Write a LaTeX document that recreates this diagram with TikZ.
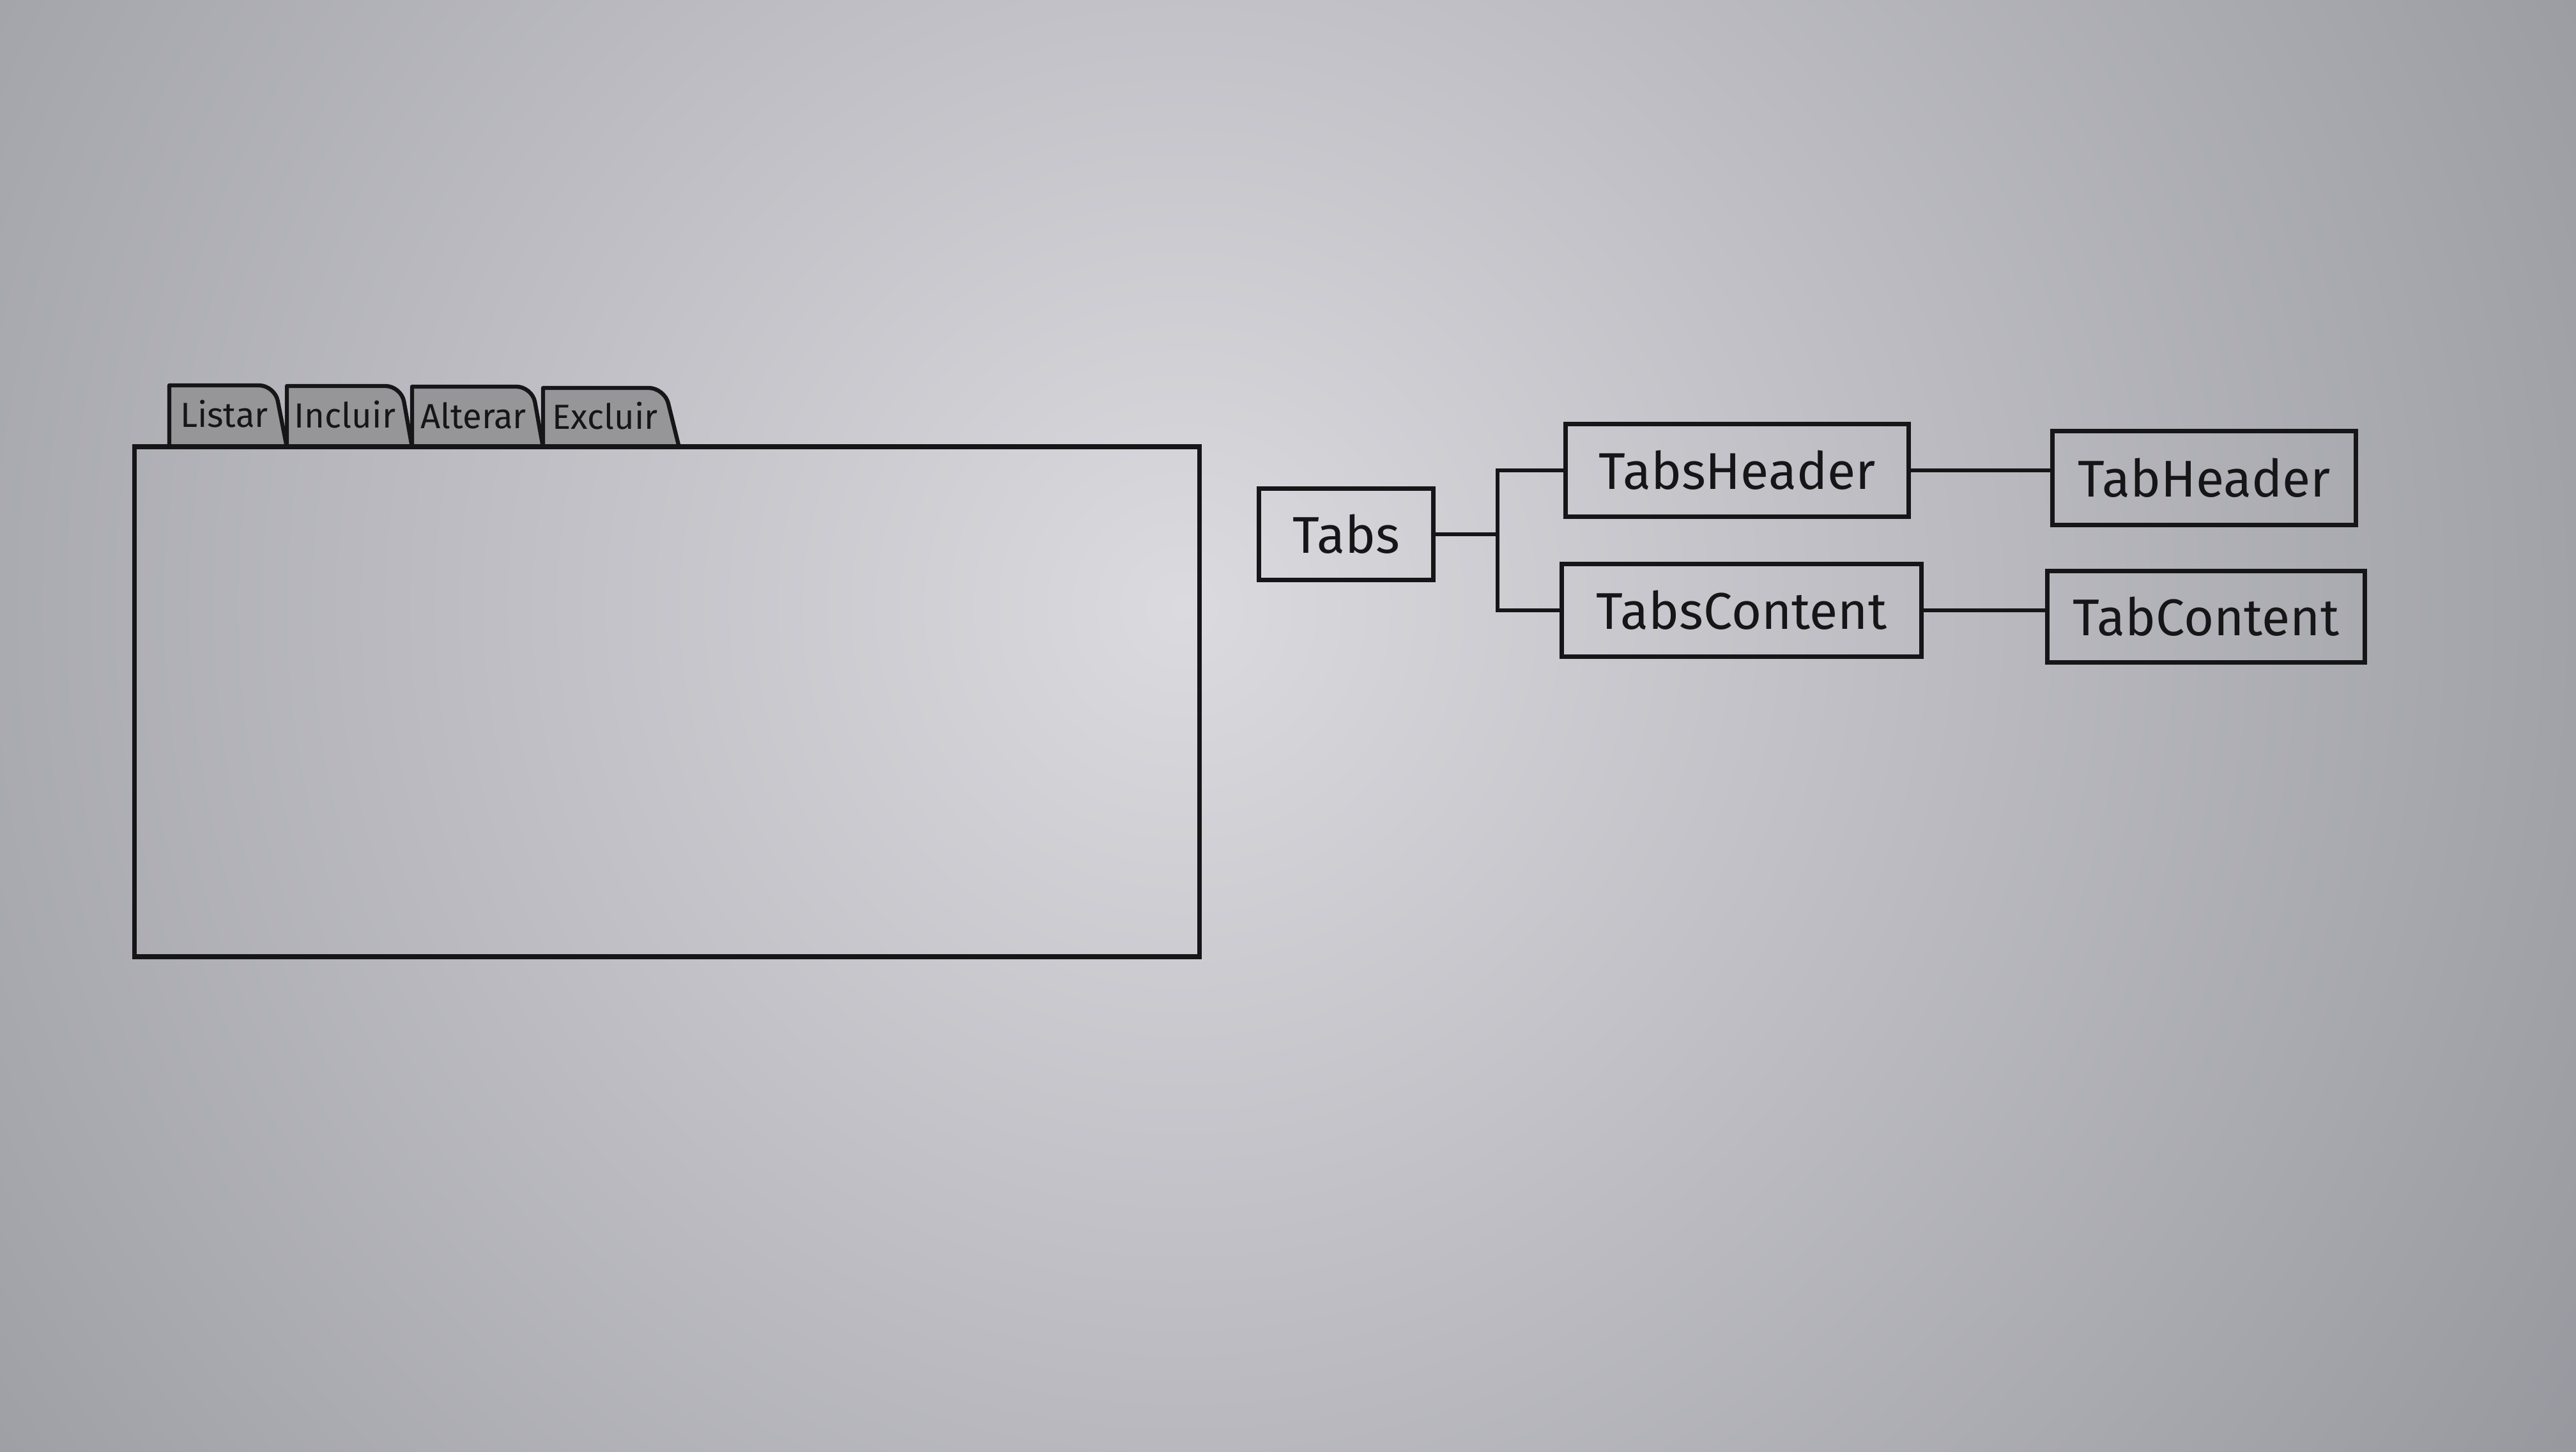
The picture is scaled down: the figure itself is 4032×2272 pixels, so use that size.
\documentclass[tikz,border=0pt]{standalone}
\usepackage{fontspec}
\setmainfont{Fira Sans}
\definecolor{bgin}{RGB}{218,218,223}
\definecolor{bgout}{RGB}{132,132,140}
\definecolor{tabgray}{RGB}{150,150,153}
\definecolor{ink}{RGB}{22,22,24}
\begin{document}
\begin{tikzpicture}[x=0.01cm,y=-0.01cm,
  box/.style={draw=ink, line width=2pt, inner sep=0pt, text=ink,
    font=\fontsize{23}{26}\selectfont},
  tabshape/.style={draw=ink, line width=1.8pt, fill=tabgray, line join=round},
  tablabel/.style={font=\fontsize{15.5}{18}\selectfont, text=ink, inner sep=0pt},
  panelbox/.style={draw=ink, line width=2.2pt, inner sep=0pt},
  link/.style={draw=ink, line width=1.5pt}]
% background
\begin{scope}
\clip (0,0) rectangle (4032,2272);
\fill[bgout] (0,0) rectangle (4032,2272);
\shade[inner color=bgin, outer color=bgout] (1850,950) circle (3300);
\end{scope}
\useasboundingbox (0,0) rectangle (4032,2272);

% tabs
\draw[tabshape] (265,700) -- (265,603) {[rounded corners=7pt] -- (430,603) -- (449,700)};
\node[tablabel] (tListar) at (351,648) {Listar};
\draw[tabshape] (449,700) -- (449,604) {[rounded corners=7pt] -- (628,604) -- (645,700)};
\node[tablabel] (tIncluir) at (540,649) {Incluir};
\draw[tabshape] (645,700) -- (645,605) {[rounded corners=7pt] -- (833,605) -- (850,700)};
\node[tablabel] (tAlterar) at (741,650) {Alterar};
\draw[tabshape] (850,700) -- (850,607) {[rounded corners=7pt] -- (1040,607) -- (1063,700)};
\node[tablabel] (tExcluir) at (947,651) {Excluir};

% panel
\node[panelbox, minimum width=16.66cm, minimum height=7.97cm] (panel) at (1044,1098) {};

% tree
\node[box, minimum width=2.72cm, minimum height=1.42cm] (tabs) at (2107,836) {Tabs};
\node[box, minimum width=5.36cm, minimum height=1.44cm] (th) at (2719,736) {TabsHeader};
\node[box, minimum width=5.63cm, minimum height=1.44cm] (tc) at (2726,955) {TabsContent};
\node[box, minimum width=4.75cm, minimum height=1.47cm] (tH) at (3450,748) {TabHeader};
\node[box, minimum width=4.97cm, minimum height=1.43cm] (tC) at (3453,965) {TabContent};

\coordinate (jn) at (2344,836);
\draw[link] (tabs.east) -- (jn);
\draw[link] (jn) |- (th.west);
\draw[link] (jn) |- (tc.west);
\draw[link] (th.east) -- (th.east -| tH.west);
\draw[link] (tc.east) -- (tc.east -| tC.west);
\end{tikzpicture}
\end{document}
